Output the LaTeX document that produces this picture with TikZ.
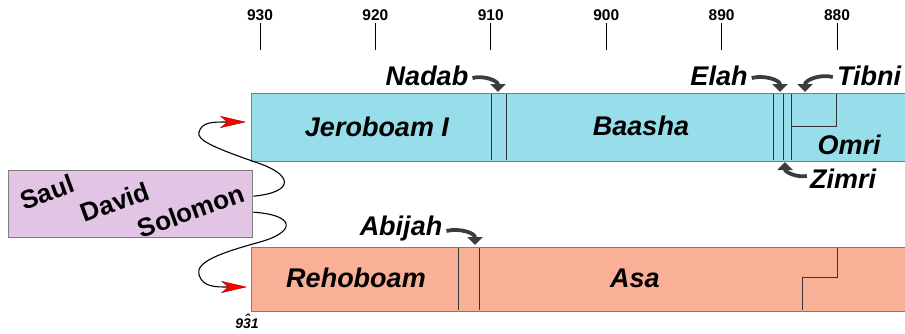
\documentclass[tikz,border=0pt]{standalone}
\usepackage{fontspec}
\setmainfont{Liberation Sans}
\usetikzlibrary{arrows.meta,positioning}
\definecolor{israel}{RGB}{152,222,234}
\definecolor{judah}{RGB}{250,176,150}
\definecolor{united}{RGB}{226,196,228}
\definecolor{edge}{RGB}{125,125,125}
\definecolor{pointer}{RGB}{60,60,60}
\begin{document}
\begin{tikzpicture}[x=1pt, y=-1pt,
  bar/.style={draw=edge, line width=1.4pt, rectangle, inner sep=0pt, anchor=north west},
  king/.style={font=\fontsize{27}{29}\selectfont\bfseries\itshape, inner sep=0pt},
  patriarch/.style={font=\fontsize{26}{28}\selectfont\bfseries, inner sep=0pt, rotate=20},
  year/.style={font=\fontsize{15.5}{17}\selectfont\bfseries, inner sep=0pt},
  reign/.style={line width=0.9pt, black!80},
  turn/.style={pointer, line width=3.8pt, -{Triangle[length=8pt,width=15pt]}},
  snake/.style={line width=1.1pt, -{Stealth[length=26pt,width=12pt,inset=7pt,fill=red,color=red!60!black,line width=0.4pt]}}]
\useasboundingbox (0,0) rectangle (905,333);
% time scale
\foreach \y [count=\i from 0] in {930,920,...,880}{
  \node[year] (t\y) at (260+115.4*\i,15) {\y};
  \draw[line width=1pt] (260+115.4*\i,23) -- (260+115.4*\i,50);
}
% kingdoms
\node[bar, fill=israel, minimum width=670, minimum height=68] (israel) at (251,93) {};
\node[bar, fill=judah, minimum width=670, minimum height=64] (judah) at (251,247) {};
\node[bar, fill=united, minimum width=244, minimum height=67] (united) at (8,170) {};
% reigns
\foreach \x in {491,506,773,783,791} \draw[reign] (\x,94) -- (\x,160);
\draw[reign] (836,94) |- (791,126);
\foreach \x in {458,479} \draw[reign] (\x,248) -- (\x,310);
\draw[reign] (837,248) -- (837,277) -- (802,277) -- (802,310);
% names
\node[king] (jeroboam) at (377,127) {Jeroboam I};
\node[king] (baasha) at (641,126) {Baasha};
\node[king] (omri) at (849,145) {Omri};
\node[king] (nadab) at (427,76) {Nadab};
\node[king] (elah) at (719,76) {Elah};
\node[king] (tibni) at (869,76) {Tibni};
\node[king] (zimri) at (843,179) {Zimri};
\node[king] (rehoboam) at (356,278) {Rehoboam};
\node[king] (asa) at (635,278) {Asa};
\node[king] (abijah) at (401,229) {Abijah};
\node[patriarch] (saul) at (47,192) {Saul};
\node[patriarch] (david) at (115,202) {David};
\node[patriarch] (solomon) at (191,211) {Solomon};
\node[font=\fontsize{14}{15}\selectfont\bfseries\itshape, inner sep=0pt] (split) at (247,321)
  {9\rlap{\raisebox{0.28em}{\kern0.12em\char"02C6}}31};
% pointers
\coordinate (nadabtip) at (498,92);
\coordinate (elahtip) at (780,92);
\coordinate (tibnitip) at (805,92);
\coordinate (zimritip) at (785,162);
\coordinate (abijahtip) at (475,245);
\draw[turn] ([xshift=4pt,yshift=-2pt]nadab.east) to[out=15,in=90] (nadabtip);
\draw[turn] ([xshift=4pt,yshift=-2pt]elah.east) to[out=15,in=90] (elahtip);
\draw[turn] ([xshift=-4pt,yshift=-1pt]tibni.west) to[out=165,in=90] (tibnitip);
\draw[turn] ([xshift=-3pt,yshift=3pt]zimri.west) to[out=190,in=270] (zimritip);
\draw[turn] ([xshift=4pt,yshift=-2pt]abijah.east) to[out=15,in=90] (abijahtip);
% division
\coordinate (tojeroboam) at (246,122);
\coordinate (torehoboam) at (247,287);
\draw[snake] ([yshift=8pt]united.east) .. controls (296,192) and (293,174) .. (255,162)
  .. controls (215,148) and (196,140) .. (199,132) .. controls (202,122) and (212,122) .. (tojeroboam);
\draw[snake] ([yshift=-8pt]united.east) .. controls (296,215) and (296,232) .. (260,242)
  .. controls (220,253) and (195,262) .. (199,275) .. controls (203,287) and (215,287) .. (torehoboam);
\end{tikzpicture}
\end{document}
